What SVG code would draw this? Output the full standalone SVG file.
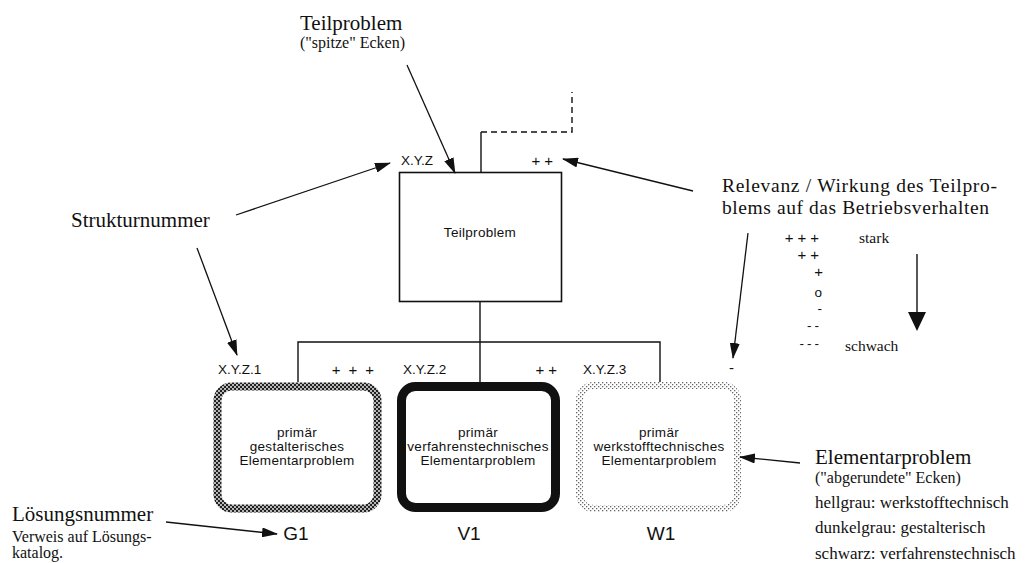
<svg xmlns="http://www.w3.org/2000/svg" width="1027" height="563" viewBox="0 0 1027 563">
  <style>
    .serif { font-family: "Liberation Serif", "Times New Roman", serif; fill: #111; }
    .sans { font-family: "Liberation Sans", Arial, sans-serif; fill: #111; }
    .title { font-size: 21px; }
    .title2 { font-size: 19.5px; }
    .sub { font-size: 16px; }
    .note { font-size: 17px; }
    .lbl { font-size: 13.5px; }
    .plus { font-size: 15px; }
    .box { font-size: 13.5px; letter-spacing: 0.3px; }
    .code { font-size: 19px; }
    .line { stroke: #111; stroke-width: 1.4; fill: none; }
    .arrow { stroke: #111; stroke-width: 1.3; fill: none; marker-end: url(#head); }
  </style>
  <defs>
    <marker id="head" markerUnits="userSpaceOnUse" markerWidth="16" markerHeight="10" refX="15" refY="5" orient="auto">
      <path d="M0,0 L16,5 L0,10 Z" fill="#111"/>
    </marker>
    <!-- halftone patterns for the rounded borders -->
    <pattern id="dark" width="4" height="4" patternUnits="userSpaceOnUse">
      <rect width="4" height="4" fill="#222"/>
      <circle cx="1" cy="1" r="0.9" fill="#fff"/>
      <circle cx="3" cy="3" r="0.9" fill="#fff"/>
    </pattern>
    <pattern id="light" width="4" height="4" patternUnits="userSpaceOnUse">
      <rect width="4" height="4" fill="#fff"/>
      <rect x="0" y="0" width="1.3" height="1.3" fill="#666"/>
      <rect x="2" y="2" width="1.3" height="1.3" fill="#666"/>
    </pattern>
  </defs>

  <rect width="1027" height="563" fill="#fff"/>

  <!-- tree connectors -->
  <g id="connectors">
    <path class="line" d="M481,172 V132"/>
    <path class="line" d="M481,132 H572 V92" stroke-dasharray="6,4"/>
    <path class="line" d="M480,302 V382"/>
    <path class="line" d="M298,382 V342 H660 V382"/>
  </g>

  <!-- Teilproblem (sharp corners) -->
  <g id="teilproblem">
    <rect x="399.5" y="172.5" width="162" height="129" fill="none" stroke="#111" stroke-width="1.6"/>
    <text class="sans box" x="480" y="237" text-anchor="middle">Teilproblem</text>
    <text class="sans lbl" x="401" y="165">X.Y.Z</text>
    <text class="sans plus" x="557" y="166" text-anchor="end" letter-spacing="4">++</text>
  </g>

  <!-- Elementarproblem G1 (dark grey) -->
  <g id="g1">
    <rect x="217.5" y="386.5" width="160" height="122" rx="14" fill="#fff" stroke="url(#dark)" stroke-width="8"/>
    <text class="sans box" x="297" y="437" text-anchor="middle">primär</text>
    <text class="sans box" x="297" y="451" text-anchor="middle">gestalterisches</text>
    <text class="sans box" x="297" y="465" text-anchor="middle">Elementarproblem</text>
    <text class="sans lbl" x="218" y="374">X.Y.Z.1</text>
    <text class="sans plus" x="382" y="375" text-anchor="end" letter-spacing="8">+++</text>
    <text class="sans code" x="296" y="540" text-anchor="middle">G1</text>
  </g>

  <!-- Elementarproblem V1 (black) -->
  <g id="v1">
    <rect x="401.5" y="386.5" width="154" height="121" rx="14" fill="#fff" stroke="#111" stroke-width="9"/>
    <text class="sans box" x="478" y="437" text-anchor="middle">primär</text>
    <text class="sans box" x="478" y="451" text-anchor="middle">verfahrenstechnisches</text>
    <text class="sans box" x="478" y="465" text-anchor="middle">Elementarproblem</text>
    <text class="sans lbl" x="403" y="374">X.Y.Z.2</text>
    <text class="sans plus" x="561" y="375" text-anchor="end" letter-spacing="4">++</text>
    <text class="sans code" x="469" y="540" text-anchor="middle">V1</text>
  </g>

  <!-- Elementarproblem W1 (light grey) -->
  <g id="w1">
    <rect x="579.5" y="385.5" width="158" height="123" rx="14" fill="#fff" stroke="url(#light)" stroke-width="7"/>
    <text class="sans box" x="659" y="437" text-anchor="middle">primär</text>
    <text class="sans box" x="659" y="451" text-anchor="middle">werkstofftechnisches</text>
    <text class="sans box" x="659" y="465" text-anchor="middle">Elementarproblem</text>
    <text class="sans lbl" x="583" y="374">X.Y.Z.3</text>
    <text class="sans plus" x="729" y="373">-</text>
    <text class="sans code" x="661" y="540" text-anchor="middle">W1</text>
  </g>

  <!-- annotations -->
  <g id="annotation-teilproblem">
    <text class="serif title" x="300" y="30">Teilproblem</text>
    <text class="serif sub" x="300" y="48">("spitze" Ecken)</text>
    <path class="arrow" d="M407,65 L455,173"/>
  </g>

  <g id="annotation-struktur">
    <text class="serif title" x="71" y="227">Strukturnummer</text>
    <path class="arrow" d="M236,215 L390,163"/>
    <path class="arrow" d="M197,248 L237,355"/>
  </g>

  <g id="annotation-relevanz">
    <text class="serif title2" x="722" y="192" textLength="275" lengthAdjust="spacing">Relevanz / Wirkung des Teilpro-</text>
    <text class="serif title2" x="722" y="214" textLength="267" lengthAdjust="spacing">blems auf das Betriebsverhalten</text>
    <path class="arrow" d="M693,191 L563,159"/>
    <path class="arrow" d="M748,233 L733,358"/>
  </g>

  <g id="legend">
    <text class="sans plus" x="823" y="243" text-anchor="end" letter-spacing="4">+++</text>
    <text class="sans plus" x="823" y="260" text-anchor="end" letter-spacing="4">++</text>
    <text class="sans plus" x="823" y="277" text-anchor="end">+</text>
    <text class="sans lbl" x="822" y="297" text-anchor="end">o</text>
    <text class="sans lbl" x="822" y="313" text-anchor="end">-</text>
    <text class="sans lbl" x="822" y="330" text-anchor="end" letter-spacing="3">--</text>
    <text class="sans lbl" x="822" y="348" text-anchor="end" letter-spacing="3">---</text>
    <text class="serif" font-size="15.5" x="859" y="243">stark</text>
    <text class="serif" font-size="15.5" x="845" y="351">schwach</text>
    <path class="line" d="M917,254 V314"/>
    <path d="M908,312 L926,312 L917,331 Z" fill="#111"/>
  </g>

  <g id="annotation-elementar">
    <text class="serif title" x="815" y="464">Elementarproblem</text>
    <text class="serif sub" x="815" y="483">("abgerundete" Ecken)</text>
    <text class="serif note" x="815" y="508">hellgrau: werkstofftechnisch</text>
    <text class="serif note" x="815" y="533">dunkelgrau: gestalterisch</text>
    <text class="serif note" x="815" y="559">schwarz: verfahrenstechnisch</text>
    <path class="arrow" d="M800,463 L740,457"/>
  </g>

  <g id="annotation-loesung">
    <text class="serif title" x="12" y="521">Lösungsnummer</text>
    <text class="serif" font-size="16" x="12" y="542">Verweis auf Lösungs-</text>
    <text class="serif" font-size="16" x="12" y="558">katalog.</text>
    <path class="arrow" d="M166,522 L277,534"/>
  </g>
</svg>
